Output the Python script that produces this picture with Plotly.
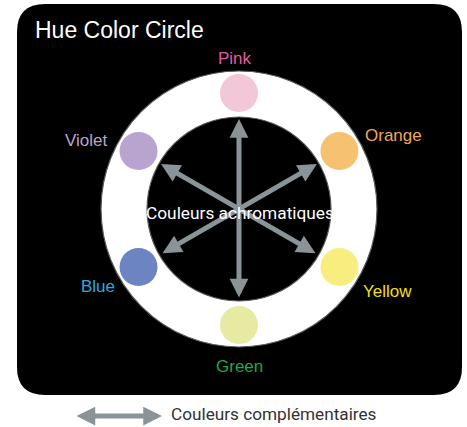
import math
import plotly.graph_objects as go

# ---- data ----
hue_names = ["Pink", "Orange", "Yellow", "Green", "Blue", "Violet"]
hue_angles = [90, 30, -30, -90, -150, 150]          # degrees, counter-clockwise from east
swatch_colors = ["#F3C6D8", "#F6C170", "#F8EE80", "#E6EAA2", "#6D84C2", "#B9A3CF"]
label_colors = ["#E35C9E", "#F2A65A", "#F2DE1E", "#1FA84F", "#2AA9E0", "#B9A3CF"]
arrow_angles = [90, 30, 150]                        # three double-headed arrows
title_text = "Hue Color Circle"
center_text = "Couleurs achromatiques"
legend_text = "Couleurs complémentaires"

# ---- geometry (pixel space) ----
W, H = 467, 427
cx, cy = 239, 209
R_OUT, R_IN, R_SW, SW_R, R_ARROW = 138, 92, 116, 19, 90
GREY = "#8A9398"
NARROW = "Roboto, Liberation Sans, sans-serif"
SANS = "Liberation Sans, Arial, Helvetica, sans-serif"

fig = go.Figure()
shapes = []

# rounded black panel
x0, y0, x1, y1, r = 17, 4, 462, 395, 28
path = (f"M{x0+r},{y0} L{x1-r},{y0} Q{x1},{y0} {x1},{y0+r} L{x1},{y1-r} Q{x1},{y1} {x1-r},{y1} "
        f"L{x0+r},{y1} Q{x0},{y1} {x0},{y1-r} L{x0},{y0+r} Q{x0},{y0} {x0+r},{y0} Z")
shapes.append(dict(type="path", path=path, xref="x", yref="y", fillcolor="black", line=dict(width=0), layer="below"))

# ring
shapes.append(dict(type="circle", xref="x", yref="y", x0=cx-R_OUT, x1=cx+R_OUT, y0=cy-R_OUT, y1=cy+R_OUT,
                   fillcolor="white", line=dict(color="#5a5a5a", width=1.2), layer="below"))
shapes.append(dict(type="circle", xref="x", yref="y", x0=cx-R_IN, x1=cx+R_IN, y0=cy-R_IN, y1=cy+R_IN,
                   fillcolor="black", line=dict(color="#5a5a5a", width=1.2), layer="below"))

annotations = []
label_offsets = {"Pink": (-4, -35, "center"), "Orange": (24, -16, "left"), "Yellow": (22, 24, "left"),
                 "Green": (0, 41, "center"), "Blue": (-22, 19, "right"), "Violet": (-30, -11, "right")}
for name, ang, col, lcol in zip(hue_names, hue_angles, swatch_colors, label_colors):
    sx = cx + R_SW * math.cos(math.radians(ang))
    sy = cy - R_SW * math.sin(math.radians(ang))
    shapes.append(dict(type="circle", xref="x", yref="y", x0=sx-SW_R, x1=sx+SW_R, y0=sy-SW_R, y1=sy+SW_R,
                       fillcolor=col, line=dict(width=0), layer="below"))
    dx, dy, anch = label_offsets[name]
    annotations.append(dict(x=sx+dx, y=sy+dy, xref="x", yref="y", text=name, showarrow=False,
                            xanchor=anch, yanchor="middle", font=dict(family=SANS, size=17, color=lcol)))

# arrows
for ang in arrow_angles:
    ex = cx + R_ARROW * math.cos(math.radians(ang))
    ey = cy - R_ARROW * math.sin(math.radians(ang))
    bx = cx - R_ARROW * math.cos(math.radians(ang))
    by = cy + R_ARROW * math.sin(math.radians(ang))
    annotations.append(dict(x=ex, y=ey, ax=bx, ay=by, xref="x", yref="y", axref="x", ayref="y",
                            text="", showarrow=True, arrowhead=2, startarrowhead=2, arrowside="end+start",
                            arrowsize=0.75, startarrowsize=0.75, arrowwidth=5, arrowcolor=GREY))

annotations.append(dict(x=cx + 1, y=cy+4, xref="x", yref="y", text=center_text, showarrow=False,
                        font=dict(family=NARROW, size=17.3, color="white")))
annotations.append(dict(x=33, y=30, xref="x", yref="y", text=title_text, showarrow=False,
                        xanchor="left", yanchor="middle", font=dict(family=SANS, size=23, color="white")))

# legend arrow + text
annotations.append(dict(x=162, y=416, ax=75, ay=416, xref="x", yref="y", axref="x", ayref="y",
                        text="", showarrow=True, arrowhead=2, startarrowhead=2, arrowside="end+start",
                        arrowsize=0.75, startarrowsize=0.75, arrowwidth=5, arrowcolor=GREY))
annotations.append(dict(x=169, y=414, xref="x", yref="y", text=legend_text, showarrow=False,
                        xanchor="left", yanchor="middle", font=dict(family=NARROW, size=17.2, color="#333333")))

fig.update_layout(
    width=W, height=H, margin=dict(l=0, r=0, t=0, b=0),
    paper_bgcolor="white", plot_bgcolor="white",
    xaxis=dict(range=[0, W], visible=False, fixedrange=True),
    yaxis=dict(range=[H, 0], visible=False, fixedrange=True),
    shapes=shapes, annotations=annotations, showlegend=False,
)
fig.write_html("out.html", config={"displayModeBar": False},
               post_script="document.body.style.margin='0';document.body.style.overflow='hidden';")
